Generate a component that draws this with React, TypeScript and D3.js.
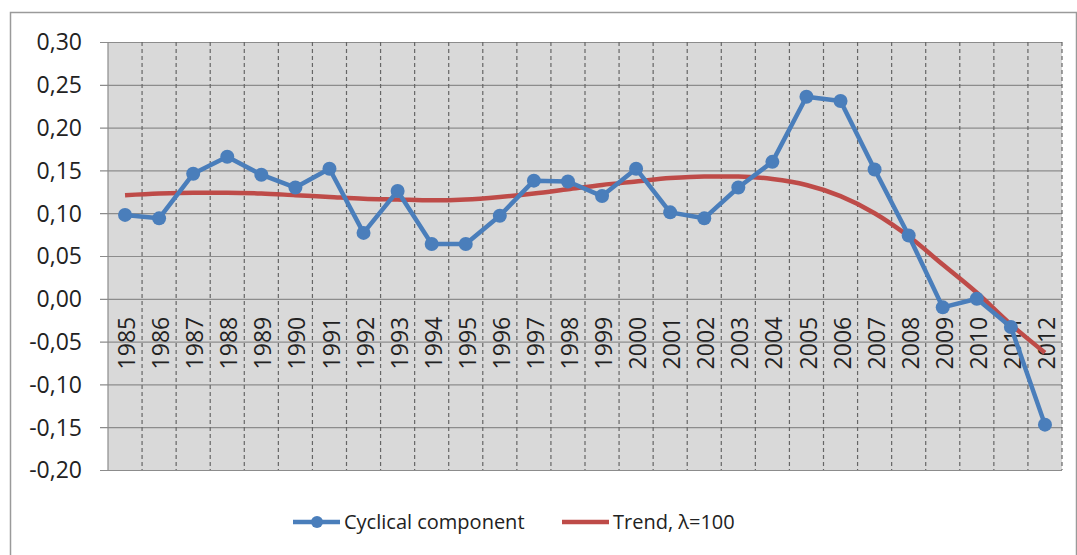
import * as d3 from "d3";
import React, { useEffect, useRef } from "react";

// years on the category axis
const years = [
  "1985", "1986", "1987", "1988", "1989", "1990", "1991", "1992", "1993", "1994",
  "1995", "1996", "1997", "1998", "1999", "2000", "2001", "2002", "2003", "2004",
  "2005", "2006", "2007", "2008", "2009", "2010", "2011", "2012"
];

// cyclical component (blue, with markers)
const cyclical = [
  0.098, 0.094, 0.146, 0.166, 0.145, 0.130, 0.152, 0.077, 0.126, 0.064,
  0.064, 0.097, 0.138, 0.137, 0.120, 0.152, 0.101, 0.094, 0.130, 0.160,
  0.236, 0.231, 0.151, 0.074, -0.010, 0.000, -0.033, -0.147
];

// HP trend, lambda = 100 (red)
const trend = [
  0.121, 0.123, 0.124, 0.124, 0.123, 0.121, 0.119, 0.117, 0.116, 0.115,
  0.116, 0.119, 0.123, 0.128, 0.133, 0.137, 0.141, 0.143, 0.143, 0.140,
  0.133, 0.120, 0.100, 0.073, 0.040, 0.007, -0.030, -0.063
];

const yTicks = [-0.2, -0.15, -0.1, -0.05, 0, 0.05, 0.1, 0.15, 0.2, 0.25, 0.3];

const seriesNames = ["Cyclical component", "Trend, λ=100"];

const BLUE = "#4a7ebb";
const RED = "#be4b48";
const FONT = "'Open Sans', sans-serif";

export default function App() {
  const ref = useRef<SVGSVGElement>(null);

  useEffect(() => {
    const svg = d3.select(ref.current);
    svg.selectAll("*").remove();

    const plot = { left: 108, top: 42, right: 1062, bottom: 470 };

    // outer chart frame
    svg.append("rect")
      .attr("x", 10.5).attr("y", 12.5)
      .attr("width", 1066).attr("height", 560)
      .attr("fill", "#fff")
      .attr("stroke", "#9a9a9a")
      .attr("stroke-width", 1.5);

    const x = d3.scaleBand().domain(years).range([plot.left, plot.right]).padding(0);
    const y = d3.scaleLinear().domain([-0.2, 0.3]).range([plot.bottom, plot.top]);
    const cx = (d: string) => (x(d) as number) + x.bandwidth() / 2;

    // plot area background
    svg.append("rect")
      .attr("x", plot.left).attr("y", plot.top)
      .attr("width", plot.right - plot.left).attr("height", plot.bottom - plot.top)
      .attr("fill", "#d9d9d9");

    // horizontal gridlines + y axis
    const yAxis = d3.axisLeft(y)
      .tickValues(yTicks)
      .tickSize(plot.right - plot.left + 8)
      .tickFormat(d => d3.format(".2f")(d as number).replace(".", ",").replace("−", "-"));
    const gy = svg.append("g")
      .attr("transform", `translate(${plot.right},0)`)
      .call(yAxis);
    gy.select(".domain").remove();
    gy.selectAll(".tick line").attr("stroke", "#8c8c8c").attr("stroke-width", 1.2);
    gy.selectAll(".tick text")
      .attr("x", -(plot.right - 82))
      .attr("dy", "0.34em")
      .attr("font-family", FONT)
      .attr("font-size", 23)
      .attr("fill", "#222");

    // vertical dashed lines at category boundaries
    svg.append("g").selectAll("line")
      .data(years.slice(1).concat(["end"]))
      .join("line")
      .attr("x1", (d, i) => plot.left + (i + 1) * x.bandwidth())
      .attr("x2", (d, i) => plot.left + (i + 1) * x.bandwidth())
      .attr("y1", plot.top).attr("y2", plot.bottom)
      .attr("stroke", "#666")
      .attr("stroke-width", 1.2)
      .attr("stroke-dasharray", "4,3");

    // left edge of plot
    svg.append("line")
      .attr("x1", plot.left).attr("x2", plot.left)
      .attr("y1", plot.top).attr("y2", plot.bottom)
      .attr("stroke", "#8c8c8c").attr("stroke-width", 1.2);

    // category labels, hanging below the zero line
    svg.append("g").selectAll("text")
      .data(years)
      .join("text")
      .attr("transform", d => `translate(${cx(d) + 2},${y(0) + 18}) rotate(-90)`)
      .attr("text-anchor", "end")
      .attr("dy", "0.35em")
      .attr("font-family", FONT)
      .attr("font-size", 23)
      .attr("fill", "#222")
      .text(d => d);

    // trend line
    const trendLine = d3.line<number>()
      .x((d, i) => cx(years[i]))
      .y(d => y(d))
      .curve(d3.curveMonotoneX);
    svg.append("path")
      .attr("d", trendLine(trend))
      .attr("fill", "none")
      .attr("stroke", RED)
      .attr("stroke-width", 4.5);

    // cyclical line with markers
    const cycLine = d3.line<number>()
      .x((d, i) => cx(years[i]))
      .y(d => y(d));
    svg.append("path")
      .attr("d", cycLine(cyclical))
      .attr("fill", "none")
      .attr("stroke", BLUE)
      .attr("stroke-width", 4.5)
      .attr("stroke-linejoin", "round");
    svg.append("g").selectAll("circle")
      .data(cyclical)
      .join("circle")
      .attr("cx", (d, i) => cx(years[i]))
      .attr("cy", d => y(d))
      .attr("r", 7)
      .attr("fill", BLUE);

    // legend
    const legend = svg.append("g").attr("transform", "translate(293,522)");
    const items = [
      { name: seriesNames[0], color: BLUE, marker: true, x0: 0 },
      { name: seriesNames[1], color: RED, marker: false, x0: 269 }
    ];
    items.forEach(it => {
      const row = legend.append("g").attr("transform", `translate(${it.x0},0)`);
      row.append("line")
        .attr("x1", 0).attr("x2", 47)
        .attr("y1", 0).attr("y2", 0)
        .attr("stroke", it.color)
        .attr("stroke-width", 4.5);
      if (it.marker) {
        row.append("circle").attr("cx", 24).attr("cy", 0).attr("r", 6).attr("fill", it.color);
      }
      row.append("text")
        .attr("x", 51)
        .attr("dy", "0.35em")
        .attr("font-family", FONT)
        .attr("font-size", 20)
        .attr("fill", "#222")
        .text(it.name);
    });
  }, []);

  return (
    <svg
      ref={ref}
      width={1077}
      height={555}
      style={{ position: "absolute", left: 0, top: 0, background: "#fff" }}
    />
  );
}
